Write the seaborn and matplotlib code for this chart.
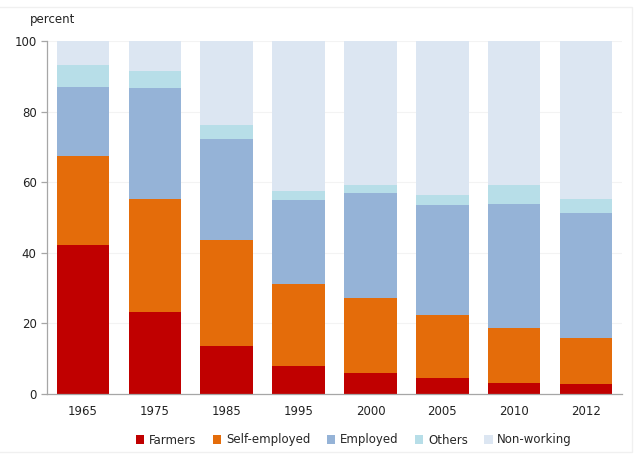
import numpy as np
import pandas as pd
import matplotlib
matplotlib.use("Agg")
import matplotlib.pyplot as plt
import seaborn as sns

years = ["1965", "1975", "1985", "1995", "2000", "2005", "2010", "2012"]
farmers = [42.2, 23.2, 13.6, 7.9, 5.9, 4.5, 3.1, 2.8]
self_employed = [25.2, 32.0, 30.0, 23.3, 21.3, 17.9, 15.6, 13.1]
employed = [19.6, 31.5, 28.6, 23.8, 29.7, 31.1, 35.1, 35.4]
others = [6.2, 4.8, 4.0, 2.5, 2.3, 2.9, 5.4, 3.9]
non_working = [6.8, 8.5, 23.8, 42.5, 40.8, 43.6, 40.8, 44.8]

series = ["Farmers", "Self-employed", "Employed", "Others", "Non-working"]
colors = ["#C00000", "#E46C0A", "#95B3D7", "#B7DEE8", "#DCE6F2"]

sns.set_theme(style="white")
plt.rcParams['font.family'] = ['DejaVu Sans']

df = pd.DataFrame({"year": years, "Farmers": farmers, "Self-employed": self_employed,
                   "Employed": employed, "Others": others, "Non-working": non_working})
cum = df[series].cumsum(axis=1)

fig = plt.figure(figsize=(6.38, 4.59), dpi=100)
ax = fig.add_axes([0.0737, 0.1416, 0.9013, 0.7691])

for s, c in reversed(list(zip(series, colors))):
    sns.barplot(x=df["year"], y=cum[s], color=c, width=0.73, ax=ax,
                saturation=1, label=s, linewidth=0)

ax.set_ylim(0, 100)
ax.set_xlim(-0.5, 7.5)
ax.set_yticks([0, 20, 40, 60, 80, 100])
ax.set_xlabel("")
ax.set_ylabel("")
for y in [20, 40, 60, 80, 100]:
    ax.axhline(y, color="#f3f3f3", lw=0.8, zorder=0)
ax.set_axisbelow(True)

for sp in ["top", "right"]:
    ax.spines[sp].set_visible(False)
for sp in ["left", "bottom"]:
    ax.spines[sp].set_color("#a6a6a6")
    ax.spines[sp].set_linewidth(0.9)

ax.tick_params(axis="x", which="major", length=0, labelsize=8.5, pad=8, colors="#222222")
ax.set_xticks(np.arange(-0.5, 8, 1), minor=True)
ax.tick_params(axis="x", which="minor", length=4, color="#a6a6a6", width=0.9, direction="out")
ax.tick_params(axis="y", length=4, color="#a6a6a6", width=0.9, labelsize=8.5, colors="#222222", direction="out", left=True)
ax.tick_params(axis="y", labelcolor="#222222")

fig.text(30/638, 1-20/459, "percent", fontsize=8.5, va="center", ha="left", color="#222222")

handles, labels = ax.get_legend_handles_labels()
order = [labels.index(s) for s in series]
leg = fig.legend([handles[i] for i in order], [labels[i] for i in order],
                 loc="center", bbox_to_anchor=(0.555, 1-440/459), ncol=5, frameon=False,
                 fontsize=8.5, handlelength=0.7, handleheight=0.7, handletextpad=0.4,
                 columnspacing=1.4)
if ax.get_legend():
    ax.get_legend().remove()

# faint outer frame
fig.add_artist(plt.Rectangle((-0.01, 1-452/459), 632/638+0.01, 445/459, transform=fig.transFigure,
                             fill=False, edgecolor="#f0f0f0", lw=1))

fig.savefig("out.png", dpi=100)
